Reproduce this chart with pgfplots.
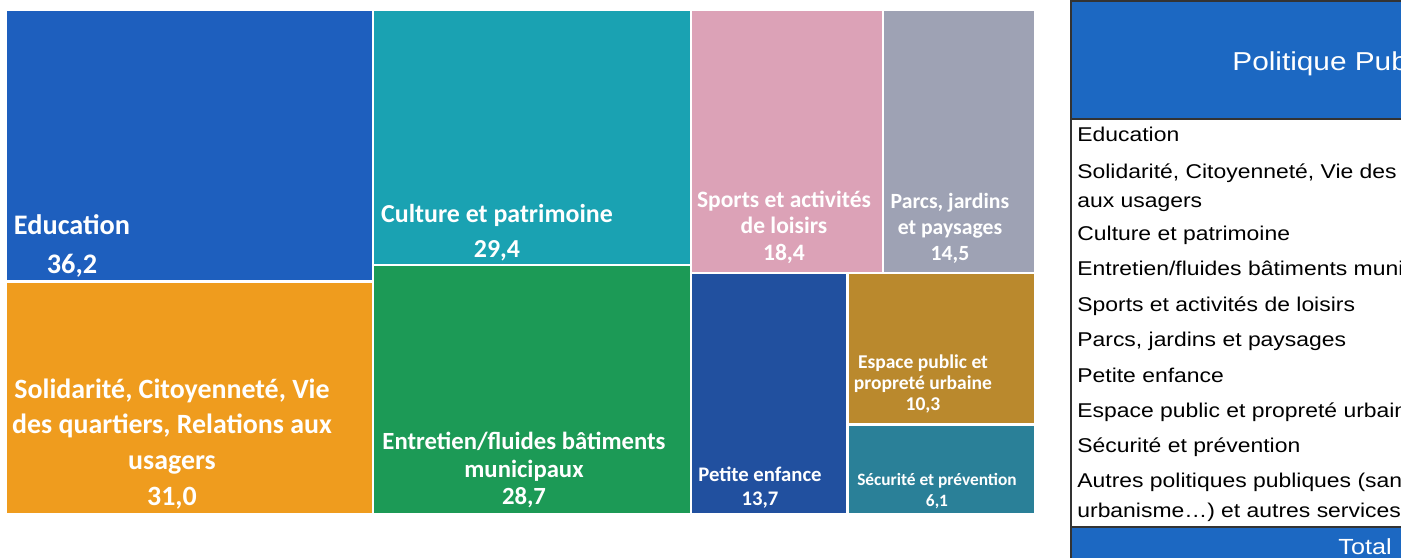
\documentclass[border=0pt]{standalone}
\usepackage{pgfplots}
\pgfplotsset{compat=1.18}
\usepackage{fontspec}
\setmainfont{Liberation Sans}
\newfontfamily\calib{Carlito}
\newfontfamily\tabfont[FakeStretch=1.15]{Liberation Sans}

\definecolor{cEdu}{HTML}{1E5FBE}
\definecolor{cSol}{HTML}{EF9C1E}
\definecolor{cCul}{HTML}{1AA2B2}
\definecolor{cEnt}{HTML}{1C9A56}
\definecolor{cSpo}{HTML}{DCA2B7}
\definecolor{cPar}{HTML}{9EA2B4}
\definecolor{cPet}{HTML}{21509F}
\definecolor{cEsp}{HTML}{BA892D}
\definecolor{cSec}{HTML}{2A8098}
\definecolor{cHead}{HTML}{1C68C2}

\begin{document}
\begin{tikzpicture}
\useasboundingbox (0,0) rectangle (700.5bp,-279bp);

% treemap: area of each tile = value (total 188.3)
\begin{axis}[
  at={(3bp,-257bp)}, anchor=south west,
  scale only axis, width=514.5bp, height=252bp,
  xmin=0, xmax=19.485, ymin=0, ymax=9.664,
  hide axis, clip=false,
  every axis plot/.append style={draw=white, line width=1.2bp},
]
% Education 36,2
\addplot[fill=cEdu] coordinates {(0,4.458) (6.954,4.458) (6.954,9.664) (0,9.664) (0,4.458)};
% Solidarite 31,0
\addplot[fill=cSol] coordinates {(0,0) (6.954,0) (6.954,4.458) (0,4.458) (0,0)};
% Culture 29,4
\addplot[fill=cCul] coordinates {(6.954,4.774) (12.966,4.774) (12.966,9.664) (6.954,9.664) (6.954,4.774)};
% Entretien 28,7
\addplot[fill=cEnt] coordinates {(6.954,0) (12.966,0) (12.966,4.774) (6.954,4.774) (6.954,0)};
% Sports 18,4
\addplot[fill=cSpo] coordinates {(12.966,4.617) (16.612,4.617) (16.612,9.664) (12.966,9.664) (12.966,4.617)};
% Parcs 14,5
\addplot[fill=cPar] coordinates {(16.612,4.617) (19.485,4.617) (19.485,9.664) (16.612,9.664) (16.612,4.617)};
% Petite enfance 13,7
\addplot[fill=cPet] coordinates {(12.966,0) (15.933,0) (15.933,4.617) (12.966,4.617) (12.966,0)};
% Espace public 10,3
\addplot[fill=cEsp] coordinates {(15.933,1.717) (19.485,1.717) (19.485,4.617) (15.933,4.617) (15.933,1.717)};
% Securite 6,1
\addplot[fill=cSec] coordinates {(15.933,0) (19.485,0) (19.485,1.717) (15.933,1.717) (15.933,0)};
\end{axis}

\begin{scope}[x=0.5bp, y=-0.5bp, every node/.style={text=white, align=center, inner sep=0pt}]
\node[font=\calib\bfseries\fontsize{14.2}{20}\selectfont] at (72,246) {Education\\36,2};
\node[font=\calib\bfseries\fontsize{14}{18}\selectfont] at (172,444) {Solidarité, Citoyenneté, Vie\\des quartiers, Relations aux\\usagers\\31,0};
\node[font=\calib\bfseries\fontsize{13}{17.5}\selectfont] at (497,233) {Culture et patrimoine\\29,4};
\node[font=\calib\bfseries\fontsize{12.4}{14}\selectfont] at (524,470) {Entretien/fluides bâtiments\\municipaux\\28,7};
\node[font=\calib\bfseries\fontsize{11.8}{13.3}\selectfont] at (784,227) {Sports et activités\\de loisirs\\18,4};
\node[font=\calib\bfseries\fontsize{10.9}{13}\selectfont] at (950,228) {Parcs, jardins\\et paysages\\14,5};
\node[font=\calib\bfseries\fontsize{10.4}{12}\selectfont] at (760,488) {Petite enfance\\13,7};
\node[font=\calib\bfseries\fontsize{9.8}{10.5}\selectfont] at (923,384) {Espace public et\\propreté urbaine\\10,3};
\node[font=\calib\bfseries\fontsize{8.7}{10.5}\selectfont] at (937,491) {Sécurité et prévention\\6,1};

% table on the right, cut by the page edge
\fill[cHead] (1071,0) rectangle (1401,119);
\fill[cHead] (1071,527) rectangle (1401,558);
\draw[black!80, line width=0.8bp] (1401,1) -- (1071,1) -- (1071,558);
\draw[black!80, line width=0.8bp] (1071,119) -- (1401,119);
\draw[black!80, line width=0.8bp] (1071,527) -- (1401,527);
\begin{scope}
\clip (1071,0) rectangle (1401,558);
\node[anchor=base west, font=\tabfont\fontsize{13}{15}\selectfont] at (1232,70) {Politique Publique};
\node[anchor=base west, font=\tabfont\fontsize{11}{13}\selectfont] at (1338,555) {Total};
\begin{scope}[every node/.style={anchor=base west, text=black, inner sep=0pt, font=\tabfont\fontsize{10}{12}\selectfont}]
\node at (1077,142) {Education};
\node at (1077,179) {Solidarité, Citoyenneté, Vie des quartiers, Relations};
\node at (1077,208) {aux usagers};
\node at (1077,241) {Culture et patrimoine};
\node at (1077,276) {Entretien/fluides bâtiments municipaux};
\node at (1077,312) {Sports et activités de loisirs};
\node at (1077,347) {Parcs, jardins et paysages};
\node at (1077,383) {Petite enfance};
\node at (1077,418) {Espace public et propreté urbaine};
\node at (1077,453) {Sécurité et prévention};
\node at (1077,488) {Autres politiques publiques (santé,};
\node at (1077,518) {urbanisme\dots) et autres services};
\end{scope}
\end{scope}
\end{scope}
\end{tikzpicture}
\end{document}
